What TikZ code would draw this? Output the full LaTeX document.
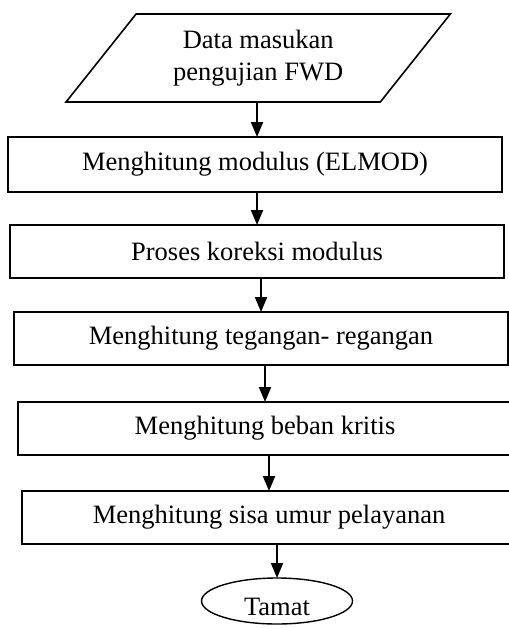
\documentclass[tikz,border=0pt]{standalone}
\usepackage{fontspec}
\setmainfont{Liberation Serif}
\usetikzlibrary{arrows.meta,positioning,shapes.geometric}
\tikzset{
    %Define standard arrow tip
    >={Triangle[length=7.5pt,width=6pt]},
    %Define style for boxes
    box/.style={
           rectangle,
           draw=black, line width=0.8pt,
           minimum width=247pt,
           minimum height=26.5pt,
           inner sep=0pt,
           outer sep=0pt,
           text centered},
    % Define style for input
    inbox/.style={
           trapezium,
           trapezium left angle=49,
           trapezium right angle=131,
           trapezium stretches=true,
           draw=black, line width=0.8pt,
           minimum width=192.5pt,
           minimum height=44pt,
           inner sep=0pt,
           outer sep=0pt,
           align=center},
    % Define style for terminal
    stopbox/.style={
           ellipse,
           draw=black, line width=0.7pt,
           minimum width=75.5pt,
           minimum height=23pt,
           inner sep=0pt,
           outer sep=0pt,
           text height=14pt,
           text depth=0pt},
    % Define arrow style
    imply/.style={
           ->,
           line width=1pt}
}

\begin{document}
\begin{tikzpicture}[node distance=1cm, auto, font=\fontsize{13.25}{16}\selectfont]
 \useasboundingbox (0,0) rectangle (254.5pt,-314pt);
 \clip (0,0) rectangle (254.5pt,-314pt);
 %nodes
    \node[inbox] (data) at (129.1pt,-29pt) {Data masukan\\pengujian FWD};
    \node[box, below=17.5pt of data, xshift=-1.6pt, minimum height=27.5pt] (elmod) {Menghitung modulus (ELMOD)};
    \node[box, below=16.5pt of elmod, xshift=1pt] (koreksi) {Proses koreksi modulus};
    \node[box, below=17pt of koreksi, xshift=2pt] (tegangan) {Menghitung tegangan- regangan};
    \node[box, below=18.5pt of tegangan, xshift=2pt] (beban) {Menghitung beban kritis};
    \node[box, below=18pt of beban, xshift=2pt] (umur) {Menghitung sisa umur pelayanan};
    \node[stopbox, below=17pt of umur, xshift=4pt] (tamat) {Tamat};
 %edges
    \draw[imply] (data.south -| koreksi.north) -- (elmod.north -| koreksi.north);
    \draw[imply] (elmod.south -| koreksi.north) -- (koreksi.north);
    \draw[imply] (koreksi.south -| tegangan.north) -- (tegangan.north);
    \draw[imply] (tegangan.south -| beban.north) -- (beban.north);
    \draw[imply] (beban.south -| umur.north) -- (umur.north);
    \draw[imply] (umur.south -| tamat.north) -- (tamat.north);
  \end{tikzpicture}
\end{document}
